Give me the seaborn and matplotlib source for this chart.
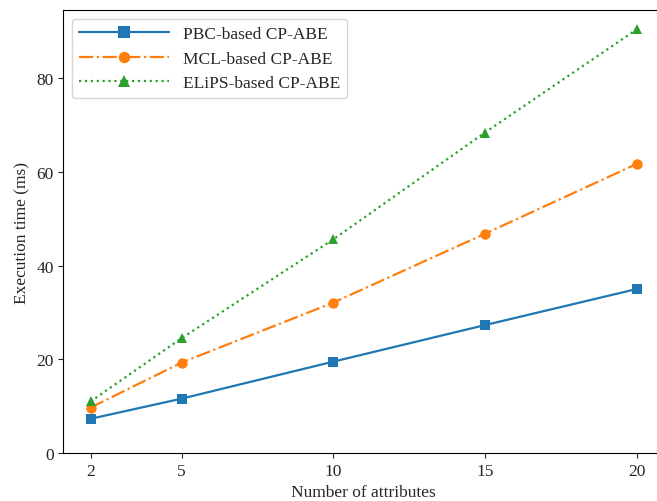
import pandas as pd
import matplotlib
matplotlib.use("Agg")
import matplotlib.pyplot as plt
import seaborn as sns

attributes = [2, 5, 10, 15, 20]
pbc_times = [7.3, 11.6, 19.5, 27.3, 35.0]
mcl_times = [9.7, 19.3, 32.1, 46.8, 61.7]
elips_times = [11.0, 24.5, 45.6, 68.4, 90.4]
schemes = ["PBC-based CP-ABE", "MCL-based CP-ABE", "ELiPS-based CP-ABE"]

sns.set_style("ticks")
plt.rcParams['font.family'] = ['Liberation Serif', 'DejaVu Serif']
plt.rcParams['font.size'] = 12

df = pd.DataFrame({
    "attributes": attributes * 3,
    "time": pbc_times + mcl_times + elips_times,
    "scheme": [schemes[0]] * 5 + [schemes[1]] * 5 + [schemes[2]] * 5,
})

fig = plt.figure(figsize=(6.57, 5.02), dpi=100)
# axes run a bit past the right edge, as in the cropped original
ax = fig.add_axes([0.0963, 0.0956, 0.9143, 0.8825])

styles = [("s", "-"), ("o", "-."), ("^", ":")]
palette = sns.color_palette("tab10")
for i, name in enumerate(schemes):
    sub = df[df["scheme"] == name]
    sns.lineplot(data=sub, x="attributes", y="time", ax=ax, legend=False,
                 color=palette[i], marker=styles[i][0], linestyle=styles[i][1],
                 markersize=7.5, markeredgewidth=0, linewidth=1.6)

ax.set_xticks(attributes)
ax.set_ylim(bottom=0)
ax.set_xlabel("Number of attributes", fontsize=12.5)
ax.set_ylabel("Execution time (ms)", fontsize=12.5)
ax.tick_params(labelsize=12.5)
for s in ax.spines.values():
    s.set_visible(True)
    s.set_color("black")
ax.legend(handles=ax.lines[:3], labels=schemes, loc="upper left", fontsize=12.5,
          handlelength=5.2, markerscale=1.1)

fig.savefig("out.png", dpi=100)
